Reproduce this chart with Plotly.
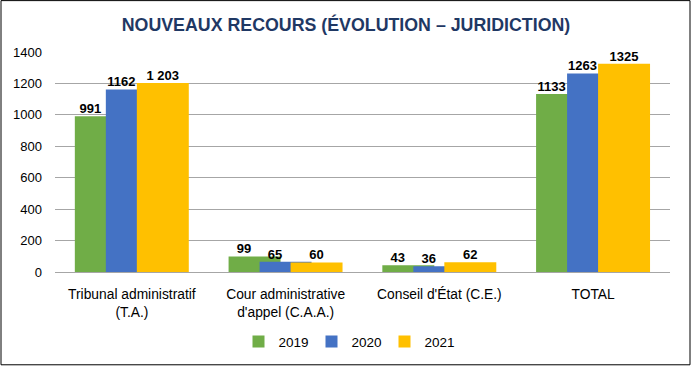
import plotly.graph_objects as go

categories = ["Tribunal administratif<br>(T.A.)", "Cour administrative<br>d'appel (C.A.A.)",
              "Conseil d'État (C.E.)", "TOTAL"]
years = ["2019", "2020", "2021"]
v2019 = [991, 99, 43, 1133]
v2020 = [1162, 65, 36, 1263]
v2021 = [1203, 60, 62, 1325]
labels2019 = ["991", "99", "43", "1133"]
labels2020 = ["1162", "65", "36", "1263"]
labels2021 = ["1 203", "60", "62", "1325"]
y_ticks = [0, 200, 400, 600, 800, 1000, 1200, 1400]

colors = ["#70AD47", "#4472C4", "#FFC000"]
series = [v2019, v2020, v2021]
series_labels = [labels2019, labels2020, labels2021]

bar_w = 0.338
step = 0.2016
start = -0.371

fig = go.Figure()
xs = list(range(len(categories)))
for k, (yr, vals, col) in enumerate(zip(years, series, colors)):
    off = start + k * step
    fig.add_trace(go.Bar(
        x=xs, y=vals, name=yr, marker=dict(color=col, line=dict(width=0)),
        offset=off, width=bar_w, hoverinfo="y",
    ))
for k, (vals, labs) in enumerate(zip(series, series_labels)):
    off = start + k * step
    lx = off + (step / 2 if k < 2 else bar_w / 2)
    fig.add_trace(go.Scatter(
        x=[i + lx for i in xs], y=vals, text=labs, mode="text",
        textposition="top center", showlegend=False, hoverinfo="skip",
        textfont=dict(family="Liberation Sans", size=13, color="#000000", weight="bold"),
        cliponaxis=False,
    ))

L, R, T, B = 55, 22, 52.5, 95
W, H = 692, 368
pw, ph = W - L - R, H - T - B

fig.update_layout(
    width=W, height=H, barmode="overlay",
    margin=dict(l=L, r=R, t=T, b=B, pad=0),
    paper_bgcolor="white", plot_bgcolor="white",
    font=dict(family="Liberation Sans", size=13, color="#000000"),
    title=dict(text="<b>NOUVEAUX RECOURS (ÉVOLUTION – JURIDICTION)</b>",
               x=0.5, xanchor="center", y=1 - 25 / H, yanchor="middle",
               font=dict(family="Liberation Sans", size=17.8, color="#1F3864")),
    xaxis=dict(range=[-0.5, 3.5], tickvals=xs, ticktext=categories,
               showgrid=False, showline=True, linecolor="#A6A6A6", linewidth=1,
               ticks="", tickfont=dict(size=13.8, color="#000000"), zeroline=False,
               ticklabelstandoff=9),
    yaxis=dict(range=[0, 1400], tickvals=y_ticks, showgrid=True, gridcolor="#A6A6A6",
               gridwidth=1, showline=False, zeroline=False, ticks="",
               tickfont=dict(size=13, color="#000000"), ticklabelstandoff=12),
    legend=dict(orientation="h", x=(348 - L) / pw, xanchor="center", y=(H - B - 342) / ph,
                yanchor="middle", font=dict(size=13.5), traceorder="normal",
                itemwidth=30, entrywidth=28, entrywidthmode="pixels"),
    showlegend=True,
)

fig.add_shape(type="rect", xref="paper", yref="paper",
              x0=(1 - L) / pw, x1=(690 - L) / pw,
              y0=(H - B - 366) / ph, y1=(H - B - 1) / ph,
              line=dict(color="#000000", width=1), fillcolor="rgba(0,0,0,0)", layer="above")

fig.write_html("out.html", config={"displayModeBar": False},
               post_script="document.body.style.margin='0';document.body.style.overflow='hidden';")
